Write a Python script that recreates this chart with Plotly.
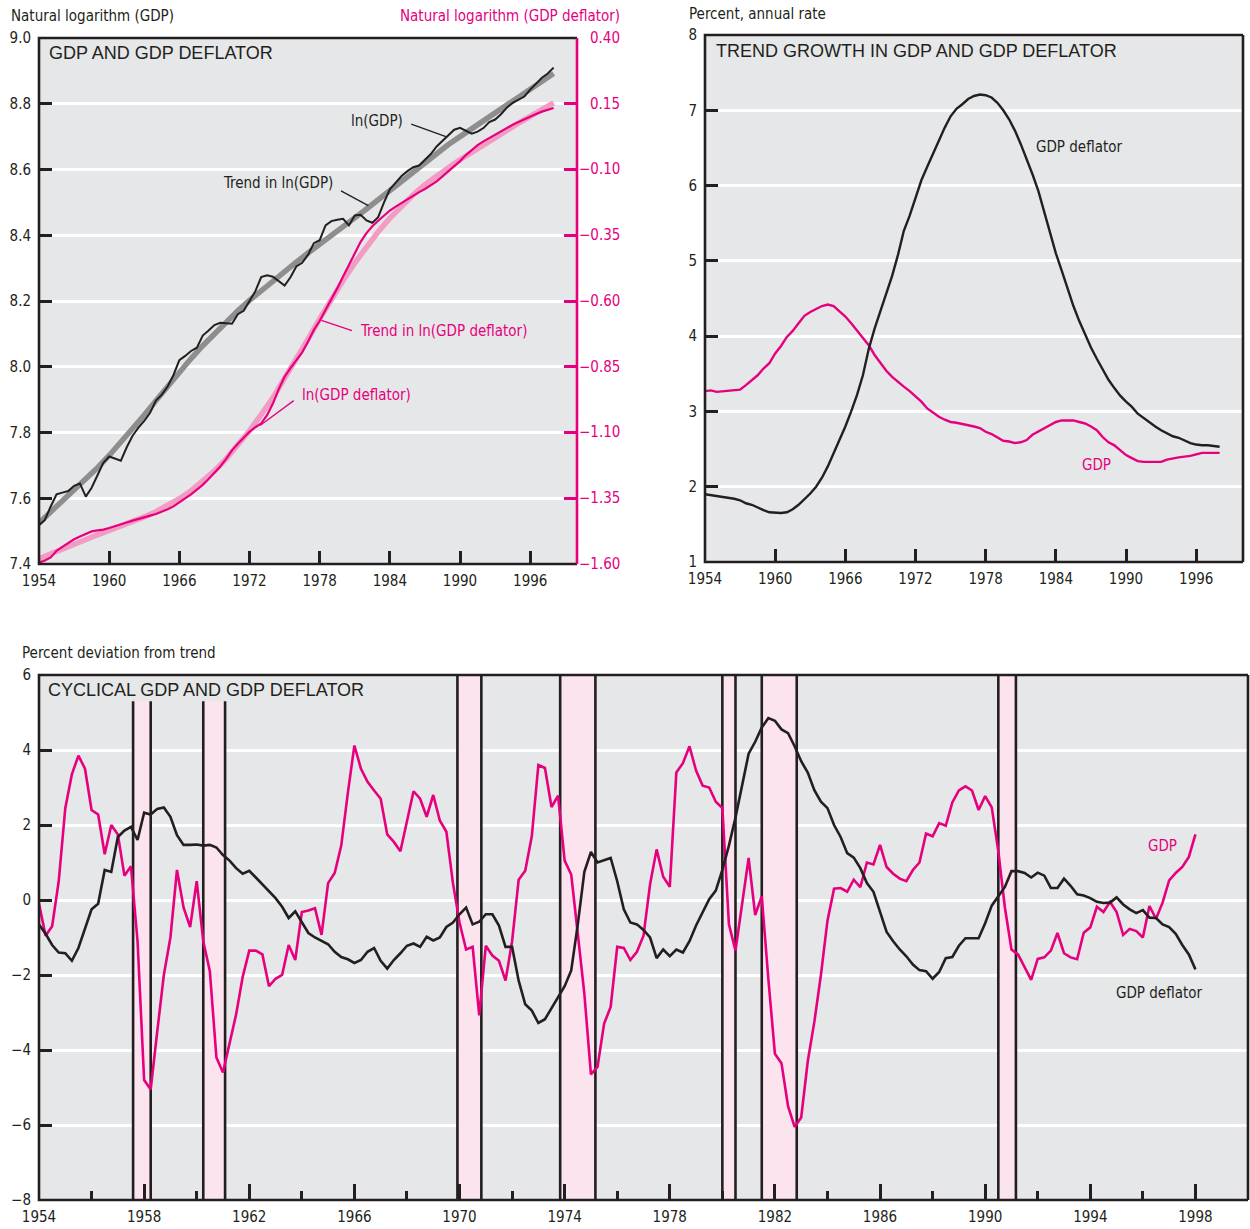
import plotly.graph_objects as go

# ---------------- data ----------------
# Top-left: ln(GDP) and ln(GDP deflator), half-year readings 1954.0 .. 1998.0
ln_gdp = [7.518, 7.534, 7.575, 7.612, 7.617, 7.622, 7.638, 7.645, 7.605, 7.632,
          7.670, 7.708, 7.727, 7.720, 7.714, 7.755, 7.790, 7.815, 7.835, 7.860,
          7.897, 7.915, 7.940, 7.975, 8.020, 8.033, 8.048, 8.058, 8.095, 8.110,
          8.127, 8.134, 8.132, 8.131, 8.160, 8.170, 8.200, 8.230, 8.273, 8.278,
          8.274, 8.260, 8.247, 8.272, 8.305, 8.316, 8.340, 8.376, 8.385, 8.430,
          8.443, 8.447, 8.450, 8.430, 8.460, 8.462, 8.445, 8.438, 8.455, 8.500,
          8.540, 8.560, 8.580, 8.595, 8.607, 8.612, 8.630, 8.647, 8.670, 8.688,
          8.705, 8.721, 8.727, 8.719, 8.709, 8.715, 8.726, 8.744, 8.752, 8.768,
          8.788, 8.803, 8.813, 8.822, 8.843, 8.861, 8.879, 8.892, 8.910]
ln_deflator = [-1.595, -1.587, -1.575, -1.550, -1.535, -1.520, -1.506, -1.495, -1.487, -1.476,
               -1.472, -1.469, -1.463, -1.455, -1.449, -1.442, -1.435, -1.428, -1.422, -1.416,
               -1.410, -1.402, -1.392, -1.381, -1.366, -1.350, -1.335, -1.317, -1.299, -1.277,
               -1.254, -1.229, -1.200, -1.168, -1.143, -1.120, -1.097, -1.080, -1.065, -1.034,
               -0.990, -0.935, -0.888, -0.855, -0.823, -0.795, -0.755, -0.710, -0.675, -0.635,
               -0.595, -0.552, -0.507, -0.462, -0.417, -0.375, -0.342, -0.316, -0.295, -0.275,
               -0.256, -0.241, -0.227, -0.213, -0.197, -0.186, -0.174, -0.160, -0.145, -0.126,
               -0.107, -0.089, -0.068, -0.045, -0.025, -0.007, 0.007, 0.020, 0.033, 0.046,
               0.058, 0.070, 0.081, 0.092, 0.102, 0.111, 0.120, 0.128, 0.134]
# Trends, annual readings 1954 .. 1998
trend_ln_gdp = [7.525, 7.558, 7.591, 7.624, 7.658, 7.693, 7.730, 7.769, 7.810, 7.853,
                7.897, 7.941, 7.984, 8.025, 8.064, 8.101, 8.136, 8.170, 8.202, 8.232,
                8.261, 8.290, 8.318, 8.346, 8.374, 8.401, 8.427, 8.453, 8.480, 8.508,
                8.537, 8.566, 8.595, 8.623, 8.650, 8.676, 8.700, 8.724, 8.747, 8.770,
                8.794, 8.818, 8.843, 8.867, 8.892]
trend_ln_deflator = [-1.580, -1.561, -1.542, -1.524, -1.506, -1.489, -1.472, -1.456, -1.439, -1.421,
                     -1.401, -1.378, -1.352, -1.322, -1.287, -1.246, -1.200, -1.149, -1.093, -1.032,
                     -0.968, -0.893, -0.822, -0.745, -0.668, -0.593, -0.522, -0.455, -0.393, -0.337,
                     -0.285, -0.238, -0.196, -0.158, -0.124, -0.093, -0.063, -0.034, -0.005, 0.023,
                     0.050, 0.076, 0.102, 0.128, 0.153]

# Top-right: trend growth (percent, annual rate), half-year readings 1954.0 .. 1998.0
growth_gdp = [3.27, 3.28, 3.26, 3.27, 3.28, 3.28, 3.29, 3.35, 3.41, 3.48,
              3.57, 3.64, 3.77, 3.87, 3.99, 4.07, 4.17, 4.27, 4.32, 4.36,
              4.40, 4.42, 4.40, 4.33, 4.26, 4.17, 4.07, 3.97, 3.88, 3.75,
              3.64, 3.54, 3.46, 3.39, 3.33, 3.27, 3.20, 3.13, 3.04, 2.98,
              2.93, 2.89, 2.86, 2.85, 2.83, 2.82, 2.80, 2.78, 2.73, 2.70,
              2.65, 2.61, 2.60, 2.58, 2.59, 2.62, 2.69, 2.73, 2.77, 2.81,
              2.86, 2.88, 2.88, 2.88, 2.86, 2.84, 2.80, 2.75, 2.66, 2.59,
              2.55, 2.49, 2.42, 2.38, 2.34, 2.33, 2.33, 2.33, 2.33, 2.36,
              2.38, 2.39, 2.40, 2.41, 2.43, 2.45, 2.45, 2.45, 2.45]
growth_deflator = [1.90, 1.89, 1.88, 1.87, 1.86, 1.84, 1.82, 1.78, 1.76, 1.72,
                   1.69, 1.66, 1.65, 1.65, 1.66, 1.70, 1.76, 1.83, 1.91, 2.00,
                   2.12, 2.27, 2.44, 2.61, 2.80, 3.00, 3.22, 3.48, 3.83, 4.10,
                   4.33, 4.54, 4.80, 5.08, 5.40, 5.60, 5.84, 6.07, 6.25, 6.43,
                   6.60, 6.77, 6.92, 7.02, 7.08, 7.15, 7.19, 7.21, 7.20, 7.17,
                   7.10, 7.00, 6.88, 6.73, 6.55, 6.36, 6.15, 5.93, 5.65, 5.36,
                   5.10, 4.87, 4.62, 4.40, 4.20, 4.02, 3.85, 3.70, 3.56, 3.42,
                   3.31, 3.21, 3.13, 3.06, 2.97, 2.91, 2.86, 2.80, 2.75, 2.71,
                   2.67, 2.65, 2.61, 2.58, 2.56, 2.55, 2.55, 2.54, 2.53]

# Bottom: cyclical component (percent deviation from trend), quarterly 1954Q1 .. 1998Q1
cycle_gdp = [-0.10, -0.95, -0.70, 0.50, 2.45, 3.35, 3.85, 3.50, 2.40, 2.28,
             1.22, 2.00, 1.75, 0.65, 0.90, -1.10, -4.80, -5.05, -3.50, -2.00,
             -1.00, 0.80, -0.20, -0.72, 0.50, -1.10, -1.90, -4.20, -4.60, -3.80,
             -3.05, -2.05, -1.35, -1.35, -1.45, -2.30, -2.10, -2.00, -1.20, -1.60,
             -0.32, -0.28, -0.22, -0.93, 0.45, 0.72, 1.45, 2.85, 4.12, 3.50,
             3.15, 2.92, 2.70, 1.75, 1.55, 1.30, 2.10, 2.90, 2.70, 2.22,
             2.80, 2.12, 1.82, 0.45, -0.60, -1.32, -1.25, -3.08, -1.22, -1.48,
             -1.62, -2.15, -1.10, 0.54, 0.78, 1.70, 3.60, 3.52, 2.48, 2.78,
             1.05, 0.68, -0.90, -2.50, -4.65, -4.45, -3.30, -2.85, -1.25, -1.28,
             -1.60, -1.38, -0.95, 0.42, 1.35, 0.62, 0.35, 3.40, 3.65, 4.10,
             3.45, 3.05, 3.00, 2.62, 2.45, -0.65, -1.35, -0.10, 1.12, -0.40,
             0.10, -2.10, -4.10, -4.35, -5.50, -6.05, -5.80, -4.30, -3.25, -2.00,
             -0.55, 0.30, 0.32, 0.22, 0.54, 0.34, 1.00, 0.95, 1.47, 0.88,
             0.70, 0.57, 0.50, 0.80, 1.00, 1.77, 1.70, 2.05, 1.98, 2.60,
             2.92, 3.03, 2.92, 2.40, 2.77, 2.47, 1.30, -0.20, -1.32, -1.45,
             -1.80, -2.13, -1.57, -1.53, -1.35, -0.88, -1.42, -1.53, -1.58, -0.87,
             -0.73, -0.18, -0.32, -0.05, -0.32, -0.93, -0.77, -0.83, -1.00, -0.16,
             -0.50, -0.07, 0.52, 0.72, 0.88, 1.15, 1.75]
cycle_deflator = [-0.65, -0.90, -1.20, -1.40, -1.42, -1.62, -1.28, -0.75, -0.25, -0.10,
                  0.80, 0.75, 1.68, 1.85, 1.95, 1.60, 2.33, 2.28, 2.43, 2.47,
                  2.22, 1.73, 1.47, 1.47, 1.48, 1.45, 1.47, 1.40, 1.20, 1.05,
                  0.85, 0.70, 0.78, 0.60, 0.42, 0.25, 0.05, -0.18, -0.48, -0.30,
                  -0.60, -0.88, -1.00, -1.10, -1.18, -1.38, -1.52, -1.58, -1.68, -1.60,
                  -1.38, -1.28, -1.62, -1.83, -1.60, -1.42, -1.22, -1.16, -1.25, -0.98,
                  -1.08, -1.00, -0.72, -0.60, -0.38, -0.20, -0.65, -0.58, -0.38, -0.38,
                  -0.68, -1.25, -1.25, -2.15, -2.78, -2.95, -3.28, -3.18, -2.88, -2.58,
                  -2.30, -1.88, -0.65, 0.75, 1.28, 1.00, 1.05, 1.12, 0.50, -0.25,
                  -0.60, -0.65, -0.80, -1.00, -1.55, -1.32, -1.50, -1.32, -1.40, -1.10,
                  -0.68, -0.32, 0.02, 0.25, 0.80, 1.45, 2.20, 3.05, 3.90, 4.22,
                  4.60, 4.85, 4.78, 4.55, 4.45, 4.10, 3.70, 3.40, 2.93, 2.62,
                  2.45, 2.00, 1.68, 1.25, 1.13, 0.85, 0.45, 0.22, -0.30, -0.85,
                  -1.10, -1.32, -1.50, -1.72, -1.87, -1.90, -2.10, -1.92, -1.55, -1.52,
                  -1.22, -1.02, -1.02, -1.02, -0.62, -0.15, 0.10, 0.35, 0.77, 0.77,
                  0.72, 0.60, 0.73, 0.65, 0.32, 0.32, 0.57, 0.38, 0.15, 0.12,
                  0.05, -0.05, -0.08, -0.07, 0.07, -0.12, -0.25, -0.35, -0.27, -0.47,
                  -0.48, -0.65, -0.72, -0.90, -1.20, -1.45, -1.85]

# Recessions (start, end), fractional years
rec_start = [1957.58, 1960.25, 1969.92, 1973.83, 1980.00, 1981.50, 1990.50]
rec_end = [1958.25, 1961.08, 1970.83, 1975.17, 1980.50, 1982.83, 1991.17]

# Tick labels
top_year_ticks = [1954, 1960, 1966, 1972, 1978, 1984, 1990, 1996]
bottom_year_ticks = [1954, 1958, 1962, 1966, 1970, 1974, 1978, 1982, 1986, 1990, 1994, 1998]
ln_gdp_ticks = [7.4, 7.6, 7.8, 8.0, 8.2, 8.4, 8.6, 8.8, 9.0]
ln_gdp_ticktext = ["7.4", "7.6", "7.8", "8.0", "8.2", "8.4", "8.6", "8.8", "9.0"]
ln_defl_ticks = [-1.60, -1.35, -1.10, -0.85, -0.60, -0.35, -0.10, 0.15, 0.40]
ln_defl_ticktext = ["\u22121.60", "\u22121.35", "\u22121.10", "\u22120.85", "\u22120.60",
                    "\u22120.35", "\u22120.10", "0.15", "0.40"]
growth_ticks = [1, 2, 3, 4, 5, 6, 7, 8]
cycle_ticks = [-8, -6, -4, -2, 0, 2, 4, 6]
cycle_ticktext = ["\u22128", "\u22126", "\u22124", "\u22122", "0", "2", "4", "6"]

# x positions
half_years = [1954 + 0.5 * k for k in range(len(ln_gdp))]
years = [1954 + k for k in range(len(trend_ln_gdp))]
quarters = [1954 + 0.25 * k for k in range(len(cycle_gdp))]

# ---------------- style ----------------
W, H = 1250, 1229
DARK = "#231f20"
MAGENTA = "#e6007e"
PINK = "#f29cc3"
GRAYT = "#8e8e8e"
BG = "#e6e7e8"
RECFILL = "#fbe4ee"
NARROW = "Liberation Sans Narrow, Arial Narrow, DejaVu Sans Condensed, Liberation Sans, sans-serif"
REG = "Liberation Sans, Arial, Helvetica, sans-serif"
FS = 15


def px_x(x):
    return x / W


def px_y(y):
    return 1 - y / H


# panel boxes in pixels (left, top, right, bottom)
P1 = (39, 38, 577, 564)
P2 = (705, 35, 1243, 562)
P3 = (39, 675, 1248, 1200)

fig = go.Figure()

fig.add_trace(go.Scatter(x=years, y=trend_ln_gdp, mode="lines", xaxis="x", yaxis="y",
                         line=dict(color=GRAYT, width=5.5), showlegend=False))
fig.add_trace(go.Scatter(x=years, y=trend_ln_deflator, mode="lines", xaxis="x", yaxis="y2",
                         line=dict(color=PINK, width=5.5), showlegend=False))
fig.add_trace(go.Scatter(x=half_years, y=ln_gdp, mode="lines", xaxis="x", yaxis="y",
                         line=dict(color=DARK, width=2), showlegend=False))
fig.add_trace(go.Scatter(x=half_years, y=ln_deflator, mode="lines", xaxis="x", yaxis="y2",
                         line=dict(color=MAGENTA, width=2.2), showlegend=False))

fig.add_trace(go.Scatter(x=half_years, y=growth_gdp, mode="lines", xaxis="x2", yaxis="y3",
                         line=dict(color=MAGENTA, width=2.4), showlegend=False))
fig.add_trace(go.Scatter(x=half_years, y=growth_deflator, mode="lines", xaxis="x2", yaxis="y3",
                         line=dict(color=DARK, width=2.4), showlegend=False))

fig.add_trace(go.Scatter(x=quarters, y=cycle_gdp, mode="lines", xaxis="x3", yaxis="y4",
                         line=dict(color=MAGENTA, width=2.6), showlegend=False))
fig.add_trace(go.Scatter(x=quarters, y=cycle_deflator, mode="lines", xaxis="x3", yaxis="y4",
                         line=dict(color=DARK, width=2.6), showlegend=False))

tickfont = dict(family=NARROW, size=FS, color=DARK)
xcommon = dict(range=[1954, 2000], ticks="inside", tickwidth=2.5, tickcolor=DARK,
               showgrid=False, zeroline=False, showline=False, tickfont=tickfont,
               ticklabelstandoff=6, automargin=False)
ycommon = dict(ticks="inside", ticklen=13, tickwidth=2.5, tickcolor=DARK,
               showgrid=True, gridcolor="white", gridwidth=2.5, zeroline=False,
               showline=False, tickfont=tickfont, ticklabelstandoff=7, automargin=False)

fig.update_layout(
    width=W, height=H, autosize=False,
    margin=dict(l=0, r=0, t=0, b=0, autoexpand=False),
    paper_bgcolor="white", plot_bgcolor=BG,
    xaxis=dict(domain=[px_x(P1[0]), px_x(P1[2])], anchor="y", tickvals=top_year_ticks,
               ticklen=13, **xcommon),
    yaxis=dict(domain=[px_y(P1[3]), px_y(P1[1])], anchor="x", range=[7.4, 9.0],
               tickvals=ln_gdp_ticks, ticktext=ln_gdp_ticktext, **ycommon),
    yaxis2=dict(overlaying="y", side="right", anchor="x", range=[-1.60, 0.40],
                tickvals=ln_defl_ticks, ticks="inside", ticklen=13,
                tickwidth=2.5, tickcolor=MAGENTA, showgrid=False, zeroline=False, showline=False,
                showticklabels=False, automargin=False),
    xaxis2=dict(domain=[px_x(P2[0]), px_x(P2[2])], anchor="y3", tickvals=top_year_ticks,
                ticklen=13, **xcommon),
    yaxis3=dict(domain=[px_y(P2[3]), px_y(P2[1])], anchor="x2", range=[1, 8],
                tickvals=growth_ticks, **ycommon),
    xaxis3=dict(domain=[px_x(P3[0]), px_x(P3[2])], anchor="y4", tickvals=bottom_year_ticks,
                ticklen=16,
                minor=dict(ticks="inside", ticklen=9, tickwidth=2.5, tickcolor=DARK,
                           dtick=2, tick0=1954, showgrid=False),
                **xcommon),
    yaxis4=dict(domain=[px_y(P3[3]), px_y(P3[1])], anchor="x3", range=[-8, 6],
                tickvals=cycle_ticks, ticktext=cycle_ticktext, **ycommon),
)

shapes = []
# recession bands
for s, e in zip(rec_start, rec_end):
    top = 5.3 if s < 1965 else 6
    shapes.append(dict(type="rect", xref="x3", yref="y4", x0=s, x1=e, y0=-8, y1=top,
                       fillcolor=RECFILL, line=dict(width=0), layer="between"))
    for xv in (s, e):
        shapes.append(dict(type="line", xref="x3", yref="y4", x0=xv, x1=xv, y0=-8, y1=top,
                           line=dict(color=DARK, width=2.6), layer="between"))

FW = 2.6
# frames
for (l, t, r, b), right_col in ((P1, MAGENTA), (P2, DARK), (P3, DARK)):
    x0, x1, y0, y1 = px_x(l), px_x(r), px_y(b), px_y(t)
    shapes.append(dict(type="path", xref="paper", yref="paper",
                       path=f"M {x1},{y1} L {x0},{y1} L {x0},{y0} L {x1},{y0}",
                       line=dict(color=DARK, width=FW), layer="above"))
    shapes.append(dict(type="line", xref="paper", yref="paper", x0=x1, x1=x1, y0=y0, y1=y1,
                       line=dict(color=right_col, width=FW), layer="above"))

# leader lines in top-left panel
leaders = [
    ("x", "y", 1985.83, 8.738, 1988.79, 8.700, DARK),
    ("x", "y", 1979.82, 8.535, 1982.16, 8.490, DARK),
    ("x", "y", 1980.76, 8.110, 1978.15, 8.141, MAGENTA),
    ("x", "y", 1975.78, 7.897, 1972.90, 7.821, MAGENTA),
]
for xr, yr, xa, ya, xb, yb, c in leaders:
    shapes.append(dict(type="line", xref=xr, yref=yr, x0=xa, y0=ya, x1=xb, y1=yb,
                       line=dict(color=c, width=1.3), layer="above"))

fig.update_layout(shapes=shapes)

lab = dict(family=NARROW, size=FS)
ann = []
# right-hand (deflator) tick labels, right-aligned as in the original
for v, t in zip(ln_defl_ticks, ln_defl_ticktext):
    ann.append(dict(text=t, xref="paper", yref="y2", x=px_x(622), y=v, xanchor="right",
                    yanchor="middle", showarrow=False, font=dict(lab, color=MAGENTA)))
# axis titles
ann.append(dict(text="Natural logarithm (GDP)", xref="paper", yref="paper", x=px_x(9), y=px_y(16),
                xanchor="left", yanchor="middle", showarrow=False, font=dict(lab, color=DARK)))
ann.append(dict(text="Natural logarithm (GDP deflator)", xref="paper", yref="paper", x=px_x(622),
                y=px_y(16), xanchor="right", yanchor="middle", showarrow=False,
                font=dict(lab, color=MAGENTA)))
ann.append(dict(text="Percent, annual rate", xref="paper", yref="paper", x=px_x(687), y=px_y(14),
                xanchor="left", yanchor="middle", showarrow=False, font=dict(lab, color=DARK)))
ann.append(dict(text="Percent deviation from trend", xref="paper", yref="paper", x=px_x(20),
                y=px_y(653), xanchor="left", yanchor="middle", showarrow=False,
                font=dict(lab, color=DARK)))
# panel titles
titf = dict(family=REG, size=18, color=DARK)
ann.append(dict(text="GDP AND GDP DEFLATOR", xref="paper", yref="paper", x=px_x(47), y=px_y(53),
                xanchor="left", yanchor="middle", showarrow=False, font=titf))
ann.append(dict(text="TREND GROWTH IN GDP AND GDP DEFLATOR", xref="paper", yref="paper",
                x=px_x(714), y=px_y(51), xanchor="left", yanchor="middle", showarrow=False,
                font=titf))
ann.append(dict(text="CYCLICAL GDP AND GDP DEFLATOR", xref="paper", yref="paper", x=px_x(46),
                y=px_y(690), xanchor="left", yanchor="middle", showarrow=False, font=titf))
# in-chart labels
ann.append(dict(text="ln(GDP)", xref="x", yref="y", x=1985.3, y=8.746, xanchor="right",
                yanchor="middle", showarrow=False, font=dict(lab, color=DARK)))
ann.append(dict(text="Trend in ln(GDP)", xref="x", yref="y", x=1979.3, y=8.558, xanchor="right",
                yanchor="middle", showarrow=False, font=dict(lab, color=DARK)))
ann.append(dict(text="Trend in ln(GDP deflator)", xref="x", yref="y", x=1981.3, y=8.11,
                xanchor="left", yanchor="middle", showarrow=False, font=dict(lab, color=MAGENTA)))
ann.append(dict(text="ln(GDP deflator)", xref="x", yref="y", x=1976.3, y=7.914, xanchor="left",
                yanchor="middle", showarrow=False, font=dict(lab, color=MAGENTA)))
ann.append(dict(text="GDP deflator", xref="x2", yref="y3", x=1982.1, y=6.51, xanchor="left",
                yanchor="middle", showarrow=False, font=dict(lab, color=DARK)))
ann.append(dict(text="GDP", xref="x2", yref="y3", x=1986.1, y=2.29, xanchor="left",
                yanchor="middle", showarrow=False, font=dict(lab, color=MAGENTA)))
ann.append(dict(text="GDP", xref="x3", yref="y4", x=1996.1, y=1.44, xanchor="left",
                yanchor="middle", showarrow=False, font=dict(lab, color=MAGENTA)))
ann.append(dict(text="GDP deflator", xref="x3", yref="y4", x=1994.9, y=-2.48, xanchor="left",
                yanchor="middle", showarrow=False, font=dict(lab, color=DARK)))
fig.update_layout(annotations=ann)

fig.write_html("out.html",
               config={"displayModeBar": False},
               post_script="document.body.style.margin='0';"
                           "document.body.style.overflow='hidden';")
